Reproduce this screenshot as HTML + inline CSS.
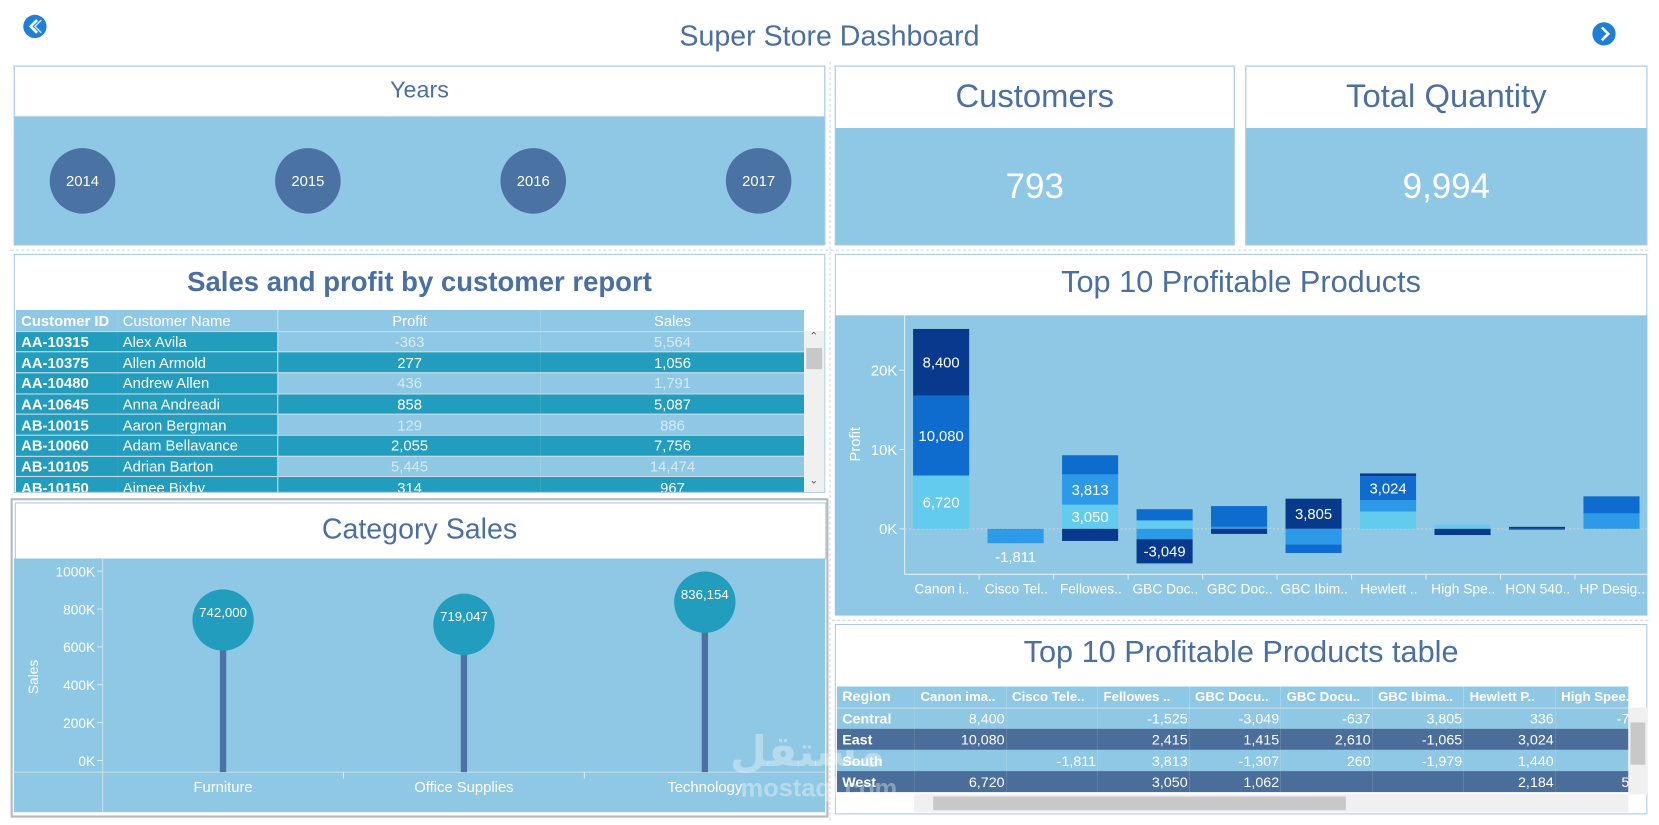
<!DOCTYPE html>
<html><head><meta charset="utf-8">
<style>
html,body{margin:0;padding:0;background:#fff;overflow:hidden}
body{width:1659px;height:825px;font-family:"Liberation Sans",sans-serif}
#root{position:absolute;left:0;top:0;width:1568px;height:780px;transform:scale(1.05804,1.05769);transform-origin:0 0}
.abs{position:absolute}
.panel{position:absolute;border:1px solid #a9c9e6;background:#8fc8e4;box-sizing:border-box}
.hdr{position:absolute;left:0;top:0;right:0;background:#fff;color:#4a6fa0;text-align:center}
.t{position:absolute;white-space:nowrap}
.circle{position:absolute;width:62px;height:62px;border-radius:50%;background:#4a73a3;color:#fff;font-size:14px;line-height:62px;text-align:center}
table{border-collapse:collapse;border-spacing:0}
td{padding-top:0;padding-bottom:0}
</style></head><body>
<div id="root">
 <div class="t" style="left:0;width:1568px;top:19px;text-align:center;font-size:27px;color:#4a6fa0">Super Store Dashboard</div>
 <svg class="abs" style="left:21px;top:13px" width="24" height="24"><circle cx="12" cy="12" r="11" fill="#1f7fd6"/><path d="M14 6 L8 12 L14 18" stroke="#fff" stroke-width="2.5" fill="none"/><path d="M18 6 L12 12 L18 18" stroke="#bfe3ff" stroke-width="1.5" fill="none"/></svg>
 <svg class="abs" style="left:1504px;top:20px" width="24" height="24"><circle cx="12" cy="12" r="11" fill="#1f7fd6"/><path d="M10 6 L16 12 L10 18" stroke="#fff" stroke-width="2.5" fill="none"/></svg>
 <div class="abs" style="left:784px;top:58px;height:718px;border-left:1px dashed #cfd8e0"></div>
 <div class="abs" style="left:10px;top:236px;width:1548px;border-top:1px dashed #cfd8e0"></div>
 <div class="abs" style="left:786px;top:586px;width:772px;border-top:1px dashed #cfd8e0"></div>

 <div class="panel" style="left:13px;top:62px;width:767px;height:170px">
  <div class="hdr" style="height:47px;font-size:22px;line-height:44px">Years</div>
  <div class="circle" style="left:33px;top:77px">2014</div>
  <div class="circle" style="left:246px;top:77px">2015</div>
  <div class="circle" style="left:459px;top:77px">2016</div>
  <div class="circle" style="left:672px;top:77px">2017</div>
 </div>
 <div class="panel" style="left:789px;top:62px;width:378px;height:170px">
  <div class="hdr" style="height:58px;font-size:31px;line-height:56px">Customers</div>
  <div class="t" style="left:0;right:0;top:94px;text-align:center;color:#fff;font-size:33px">793</div>
 </div>
 <div class="panel" style="left:1177px;top:62px;width:380px;height:170px">
  <div class="hdr" style="height:58px;font-size:31px;line-height:56px">Total Quantity</div>
  <div class="t" style="left:0;right:0;top:94px;text-align:center;color:#fff;font-size:33px">9,994</div>
 </div>

 <div class="panel" style="left:13px;top:240px;width:767px;height:226px;background:#fff">
  <div class="t" style="left:0;right:0;top:10px;text-align:center;font-size:26px;font-weight:bold;color:#4a6fa0">Sales and profit by customer report</div>
  <div class="abs" id="ctable" style="left:1px;top:52px;width:745px;height:172px;overflow:hidden"></div>
  <div class="abs" style="left:746px;top:72px;width:19px;height:152px;background:#f0f0f0">
   <div class="abs" style="left:2px;top:16px;width:15px;height:20px;background:#c8c8c8"></div>
   <div class="t" style="left:5px;top:0;font-size:10px;color:#555">&#8963;</div>
   <div class="t" style="left:5px;top:136px;font-size:10px;color:#555">&#8964;</div>
  </div>
 </div>

 <div class="panel" style="left:10px;top:471px;width:773px;height:302px;border:2px solid #b5b8bc;background:#fff">
  <div class="abs" style="left:2px;top:2px;width:765px;height:52px;border:1px solid #a9c9e6"></div>
  <div class="t" style="left:0;right:0;top:12px;text-align:center;font-size:27px;color:#4a6fa0">Category Sales</div>
 </div>
 <svg id="catsvg" class="abs" style="left:13px;top:528px" width="767" height="240"></svg>

 <div class="panel" style="left:789px;top:240px;width:768px;height:342px;background:#fff">
  <div class="t" style="left:0;right:0;top:10px;text-align:center;font-size:29px;color:#4a6fa0">Top 10 Profitable Products</div>
 </div>
 <svg id="topsvg" class="abs" style="left:789px;top:298px" width="768" height="284"></svg>

 <div class="panel" style="left:789px;top:590px;width:768px;height:180px;background:#fff">
  <div class="t" style="left:0;right:0;top:10px;text-align:center;font-size:29px;color:#4a6fa0">Top 10 Profitable Products table</div>
  <div class="abs" id="ptable" style="left:1px;top:58px;width:748px;height:100px;overflow:hidden"></div>
  <div class="abs" style="left:749px;top:78px;width:18px;height:82px;background:#f0f0f0"><div class="abs" style="left:2px;top:14px;width:14px;height:40px;background:#c8c8c8"></div></div>
  <div class="abs" style="left:74px;top:160px;width:675px;height:17px;background:#f0f0f0"><div class="abs" style="left:18px;top:2px;width:390px;height:13px;background:#c8c8c8"></div></div>
 </div>
 <div class="t" style="left:690px;top:688px;font-size:40px;font-weight:bold;color:rgba(255,255,255,0.35);font-family:'Liberation Sans','DejaVu Sans',sans-serif">مستقل</div>
 <div class="t" style="left:700px;top:732px;font-size:24px;font-weight:bold;color:rgba(255,255,255,0.35)">mostaql.com</div>
</div>

<script>
const NS="http://www.w3.org/2000/svg";
function mk(tag,attrs,parent){const e=document.createElementNS(NS,tag);for(const k in attrs)e.setAttribute(k,attrs[k]);parent.appendChild(e);return e;}
function fmt(v){return v.toLocaleString('en-US');}

const custIds=["AA-10315","AA-10375","AA-10480","AA-10645","AB-10015","AB-10060","AB-10105","AB-10150"];
const custNames=["Alex Avila","Allen Armold","Andrew Allen","Anna Andreadi","Aaron Bergman","Adam Bellavance","Adrian Barton","Aimee Bixby"];
const custProfit=[-363,277,436,858,129,2055,5445,314];
const custSales=[5564,1056,1791,5087,886,7756,14474,967];
(function(){
 const c=document.getElementById('ctable');
 let h='<table style="width:745px;font-size:14px;color:#fff;table-layout:fixed">';
 h+='<tr style="background:#8fc8e4;height:20px"><td style="width:90px;padding-left:5px;font-weight:bold">Customer ID</td><td style="width:145px;padding-left:5px;border-right:1px solid #c8dde9">Customer Name</td><td style="text-align:center">Profit</td><td style="text-align:center">Sales</td></tr>';
 for(let i=0;i<custIds.length;i++){
  const odd=i%2==0;
  const bg2=odd?'#8fc8e4':'#229dbd', fc=odd?'#d4eaf6':'#fff';
  h+=`<tr style="height:19.7px;border-top:1px solid #c6dbe6"><td style="background:#229dbd;padding-left:5px;font-weight:bold">${custIds[i]}</td><td style="background:#229dbd;padding-left:5px;border-right:1px solid #c6dbe6">${custNames[i]}</td><td style="background:${bg2};color:${fc};text-align:center">${fmt(custProfit[i])}</td><td style="background:${bg2};color:${fc};text-align:center">${fmt(custSales[i])}</td></tr>`;
 }
 c.innerHTML=h+'</table>';
})();

const catNames=["Furniture","Office Supplies","Technology"];
const catSales=[742000,719047,836154];
const catTicks=[0,200000,400000,600000,800000,1000000];
const catTickLabels=["0K","200K","400K","600K","800K","1000K"];
(function(){
 const s=document.getElementById('catsvg');
 mk('rect',{x:0,y:0,width:767,height:240,fill:'#8fc8e4'},s);
 const y=v=>191-v/1000000*179;
 const plotL=84,plotR=767,base=202;
 const band=(plotR-plotL)/catNames.length;
 mk('line',{x1:plotL,y1:0,x2:plotL,y2:240,stroke:'#c9dfec'},s);
 mk('line',{x1:0,y1:base,x2:767,y2:base,stroke:'#c9dfec'},s);
 catTicks.forEach((t,i)=>{
  mk('line',{x1:plotL-5,y1:y(t),x2:plotL,y2:y(t),stroke:'#dbeaf3'},s);
  const tx=mk('text',{x:plotL-7,y:y(t)+5,'text-anchor':'end','font-size':13,fill:'#fff'},s);tx.textContent=catTickLabels[i];
  
  
 });
 const yt=mk('text',{x:0,y:0,transform:'translate(23,112) rotate(-90)','text-anchor':'middle','font-size':13,fill:'#fff'},s);yt.textContent='Sales';
 
 
 catNames.forEach((n,i)=>{
  const cx=plotL+band*(i+0.5);
  if(i>0)mk('line',{x1:plotL+band*i,y1:base,x2:plotL+band*i,y2:base+6,stroke:'#dbeaf3'},s);
  const st=mk('rect',{x:cx-3,y:y(catSales[i]),width:6,height:base-y(catSales[i]),fill:'#4a73a3'},s);
  
  
  const c=mk('circle',{cx:cx,cy:y(catSales[i]),r:29,fill:'#229dbd'},s);
  
  
  const lb=mk('text',{x:cx,y:y(catSales[i])-3,'text-anchor':'middle','font-size':12.5,fill:'#fff'},s);lb.textContent=fmt(catSales[i]);
  
  
  const cl=mk('text',{x:cx,y:base+19,'text-anchor':'middle','font-size':14,fill:'#fff'},s);cl.textContent=n;
  
  
 });
})();

const products=["Canon i..","Cisco Tel..","Fellowes..","GBC Doc..","GBC Doc..","GBC Ibim..","Hewlett ..","High Spe..","HON 540..","HP Desig.."];
const central=[8400,0,-1525,-3049,-637,3805,336,-780,250,0];
const east=[10080,0,2415,1415,2610,-1065,3024,0,-120,2150];
const south=[0,-1811,3813,-1307,260,-1979,1440,0,0,1950];
const west=[6720,0,3050,1062,0,0,2184,524,0,0];
const profitTicks=[0,10000,20000];
const profitTickLabels=["0K","10K","20K"];
(function(){
 const s=document.getElementById('topsvg');
 mk('rect',{x:0,y:0,width:768,height:284,fill:'#8fc8e4'},s);
 const y0=202, y=v=>y0-v*7.5/1000;
 const axL=66,axB=245,band=70.4;
 mk('line',{x1:axL,y1:0,x2:axL,y2:axB,stroke:'#e2eef6'},s);
 mk('line',{x1:axL,y1:axB,x2:768,y2:axB,stroke:'#e2eef6'},s);
 mk('line',{x1:axL,y1:y0,x2:768,y2:y0,stroke:'#d0d0d0','stroke-dasharray':'2,2'},s);
 profitTicks.forEach((t,i)=>{
  mk('line',{x1:axL-5,y1:y(t),x2:axL,y2:y(t),stroke:'#e2eef6'},s);
  const tx=mk('text',{x:axL-7,y:y(t)+5,'text-anchor':'end','font-size':14,fill:'#fff'},s);tx.textContent=profitTickLabels[i];
  
  
 });
 const yt=mk('text',{x:0,y:0,transform:'translate(24,122) rotate(-90)','text-anchor':'middle','font-size':14,fill:'#fff'},s);yt.textContent='Profit';
 
 
 const series=[["west",west,"#63cbee"],["south",south,"#2d9ae8"],["east",east,"#0e6ccf"],["central",central,"#073a8c"]];
 const negOrder=[["south",south,"#2d9ae8"],["east",east,"#0e6ccf"],["central",central,"#073a8c"],["west",west,"#63cbee"]];
 products.forEach((p,i)=>{
  const bx=axL+2+i*band+6, bw=53;
  const nz=series.filter(sr=>sr[1][i]!==0).length;
  let pos=0,neg=0;
  const draw=(sr,v,a,b)=>{
   const top=Math.min(y(a),y(b)),h=Math.abs(y(a)-y(b));
   const r=mk('rect',{x:bx,y:top,width:bw,height:h,fill:sr[2]},s);
   
   
   if(Math.abs(v)>=3000){
    const t=mk('text',{x:bx+bw/2,y:top+h/2+5,'text-anchor':'middle','font-size':14,fill:'#fff'},s);t.textContent=fmt(v);
    
    
   } else if(nz===1){
    const t=mk('text',{x:bx+bw/2,y:(v<0?top+h+18:top-6),'text-anchor':'middle','font-size':14,fill:'#fff'},s);t.textContent=fmt(v);
    
    
   }
  };
  series.forEach(sr=>{const v=sr[1][i];if(v>0){draw(sr,v,pos,pos+v);pos+=v;}});
  negOrder.forEach(sr=>{const v=sr[1][i];if(v<0){draw(sr,v,neg,neg+v);neg+=v;}});
  mk('line',{x1:axL+(i+1)*band,y1:axB,x2:axL+(i+1)*band,y2:axB+5,stroke:'#e2eef6'},s);
  const cl=mk('text',{x:axL+i*band+band/2,y:axB+18,'text-anchor':'middle','font-size':13,fill:'#fff'},s);cl.textContent=p;
  
  
 });
})();

const tblHeaders=["Canon ima..","Cisco Tele..","Fellowes ..","GBC Docu..","GBC Docu..","GBC Ibima..","Hewlett P..","High Spee.."];
const tblRegions=["Central","East","South","West"];
const tblCentral=["8,400","","-1,525","-3,049","-637","3,805","336","-780"];
const tblEast=["10,080","","2,415","1,415","2,610","-1,065","3,024",""];
const tblSouth=["","-1,811","3,813","-1,307","260","-1,979","1,440",""];
const tblWest=["6,720","","3,050","1,062","","","2,184","524"];
(function(){
 const c=document.getElementById('ptable');
 const rows=[tblCentral,tblEast,tblSouth,tblWest];
 let h='<table style="font-size:13.5px;color:#fff;table-layout:fixed;width:756px">';
 h+='<tr style="background:#8fc8e4;height:20px;border-bottom:1px solid #c8dde9"><td style="width:67px;padding-left:5px;font-weight:bold">Region</td>';
 tblHeaders.forEach(t=>h+=`<td style="width:79.5px;padding-left:6px;overflow:hidden;white-space:nowrap;font-weight:bold;font-size:12.5px">${t}</td>`);
 h+='</tr>';
 rows.forEach((r,i)=>{
  const bg=i%2?'#4a6e99':'#8fc8e4';
  h+=`<tr style="background:${bg};height:20px"><td style="padding-left:5px;font-weight:bold">${tblRegions[i]}</td>`;
  r.forEach(v=>h+=`<td style="text-align:right;padding-right:1px;white-space:nowrap">${v}</td>`);
  h+='</tr>';
 });
 c.innerHTML=h+'</table>';
})();
</script>
</body></html>
